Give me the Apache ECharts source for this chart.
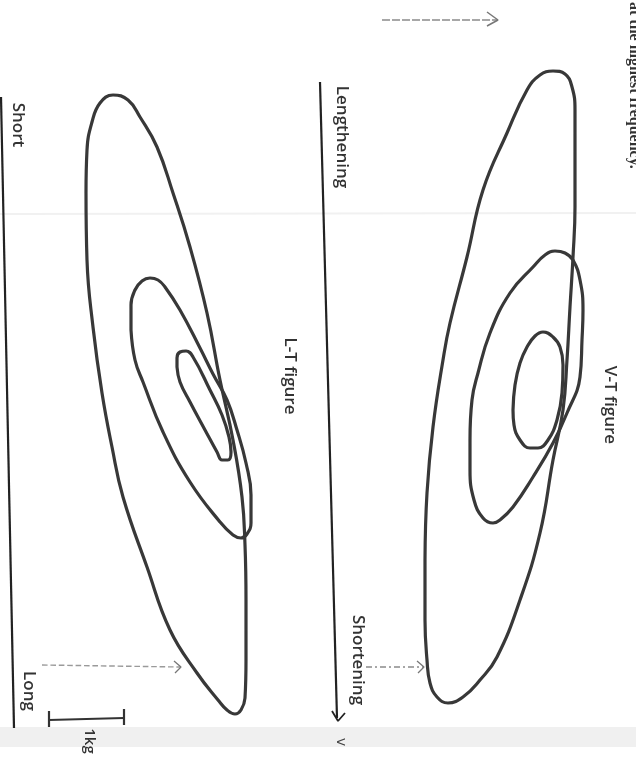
<!DOCTYPE html>
<html><head><meta charset="utf-8">
<script src="https://cdn.jsdelivr.net/npm/echarts@6/dist/echarts.min.js"></script>
<style>html,body{margin:0;padding:0;background:#fff}#c{width:636px;height:764px}</style>
</head><body><div id="c"></div>
<script>
// Traced loop outlines (x, y in figure units; y grows downward)
const ltOuter = [[86,193],[87,150],[92,122],[100,103],[113,95],[128,100],[140,117],[157,147],[173,193],[190,247],[207,313],[220,380],[233,440],[242,497],[245,545],[246,600],[246,660],[245,698],[241,710],[235,714],[227,710],[218,700],[197,673],[170,630],[147,567],[123,497],[112,447],[102,393],[93,327],[87,260],[86,193]];
const ltMiddle = [[131,330],[131,305],[135,290],[142,281],[150,278],[158,280],[165,287],[180,310],[200,348],[213,374],[227,400],[237,430],[246,463],[251,495],[251,523],[247,534],[241,538],[233,535],[220,522],[190,482],[163,432],[143,382],[135,360],[131,330]];
const ltInner = [[177,367],[177,358],[180,352],[186,351],[193,357],[210,390],[222,415],[229,437],[231,452],[228,460],[222,460],[217,452],[205,430],[190,402],[180,382],[177,367]];
const vtOuter = [[425,560],[427,493],[433,427],[443,360],[450,323],[467,257],[483,190],[507,133],[527,90],[540,75],[553,71],[565,74],[572,87],[575,110],[575,160],[575,207],[573,257],[570,307],[567,360],[563,410],[553,460],[540,533],[520,600],[497,657],[480,680],[463,697],[448,703],[437,697],[430,683],[427,660],[425,620],[425,560]];
const vtMiddle = [[470,440],[472,400],[478,373],[490,333],[510,293],[533,267],[545,255],[555,251],[565,253],[573,260],[580,280],[583,310],[582,340],[580,377],[567,413],[553,443],[533,477],[513,507],[500,520],[493,523],[483,518],[474,500],[470,470],[470,440]];
const vtInner = [[513,410],[515,385],[520,363],[527,347],[535,336],[543,332],[553,337],[560,347],[563,365],[562,393],[557,420],[548,440],[538,448],[530,448],[520,440],[514,425],[513,410]];
// Reference lines
const shortLine = [[1,97],[14,728]];
const lengthLine = [[320,82],[337,718]];
const lengthArrow = [[332,711],[338,721],[345,713]];
const scaleBar = [[49,720],[124,718]];
const scaleTickL = [[49,711],[49,727]];
const scaleTickR = [[124,709],[124,725]];
const ltArrow = [[42,665],[180,667]];
const ltArrowHead = [[174,661],[181,667],[175,673]];
const vtArrow = [[366,667],[423,667]];
const vtArrowHead = [[417,661],[424,667],[418,673]];
const topArrow = [[382,20],[497,20]];
const topArrowHead = [[487,12],[498,20],[487,26]];
const scanLine = [[0,214],[636,213]];

const loopStyle = {color:'#383838', width:3.2};
function loop(d){return {type:'line',data:d,smooth:0.45,showSymbol:false,lineStyle:loopStyle,silent:true,z:3};}
function seg(d,c,w,t){return {type:'line',data:d,smooth:false,showSymbol:false,lineStyle:{color:c,width:w,type:t||'solid'},silent:true,z:2};}

const chart = echarts.init(document.getElementById('c'));
const FONT = '600 17px "Open Sans", sans-serif';
const txt = (s,x,y,opt)=>Object.assign({type:'text',x:x,y:y,rotation:-Math.PI/2,z:10,
  style:{text:s,font:FONT,fill:'#333',align:'center',verticalAlign:'middle'}},opt||{});
chart.setOption({
  animation:false,
  backgroundColor:'#ffffff',
  grid:{left:0,right:0,top:0,bottom:0},
  xAxis:{type:'value',min:0,max:636,show:false},
  yAxis:{type:'value',min:0,max:764,inverse:true,show:false},
  series:[
    seg(scanLine,'#f1f1f1',2),
    loop(ltOuter),loop(ltMiddle),loop(ltInner),
    loop(vtOuter),loop(vtMiddle),loop(vtInner),
    seg(shortLine,'#222',2.2),
    seg(lengthLine,'#222',2.2),
    seg(lengthArrow,'#222',1.8),
    seg(scaleBar,'#333',2.2),seg(scaleTickL,'#333',2.2),seg(scaleTickR,'#333',2.2),
    seg(ltArrow,'#9a9a9a',1.4,'dashed'),seg(ltArrowHead,'#777',1.3),
    seg(vtArrow,'#8a8a8a',1.4,[6,3,2,3]),seg(vtArrowHead,'#777',1.3),
    seg(topArrow,'#8a8a8a',1.6,[8,2]),seg(topArrowHead,'#777',1.5)
  ],
  graphic:[
    {type:'rect',shape:{x:0,y:727,width:636,height:20},style:{fill:'#f0f0f0'},z:1},
    txt('Short',18,125),
    txt('Long',29,691),
    txt('1kg',89,741,{style:{text:'1kg',font:'600 15px "Open Sans", sans-serif',fill:'#333',align:'center',verticalAlign:'middle'}}),
    txt('Lengthening',342,137),
    txt('L-T figure',290,376),
    txt('Shortening',358,660),
    txt('v',341,742,{style:{text:'v',font:'15px "Open Sans", sans-serif',fill:'#444',align:'center',verticalAlign:'middle'}}),
    txt('V-T figure',610,405),
    txt('at the highest frequency.',626,2,{style:{text:'at the highest frequency.',font:'bold 16px "Liberation Serif", serif',fill:'#333',align:'left',verticalAlign:'bottom'}})
  ]
});
</script></body></html>
